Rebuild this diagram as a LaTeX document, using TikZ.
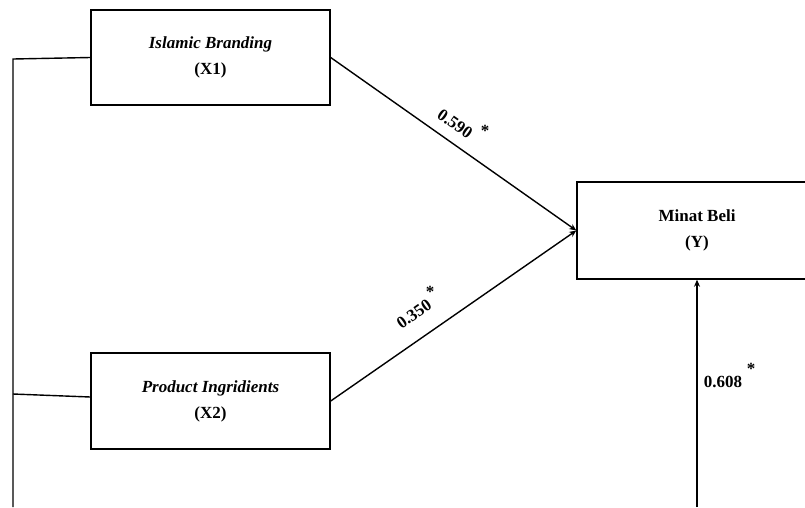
\documentclass[tikz,border=0pt]{standalone}
\usepackage{fontspec}
\setmainfont{Liberation Serif}
\usetikzlibrary{arrows.meta}
\begin{document}
\begin{tikzpicture}[x=1pt,y=-1pt,
  box/.style={draw,line width=1.4pt,minimum width=239pt,inner sep=0pt,align=center,
    font=\fontsize{17}{26}\selectfont\bfseries},
  conn/.style={line width=1.4pt},
  arr/.style={line width=1.4pt,-{Stealth[length=7pt,width=6pt]}},
  lbl/.style={font=\fontsize{17}{20}\selectfont\bfseries,inner sep=0pt},
  star/.style={font=\fontsize{17}{20}\selectfont\bfseries,inner sep=0pt}]
\clip (0,0) rectangle (805,507);
\useasboundingbox (0,0) rectangle (805,507);
\node[box,minimum height=95pt] (X1) at (210.5,57.5) {\itshape Islamic Branding\\(X1)};
\node[box,minimum height=96pt] (X2) at (210.5,401) {\itshape Product Ingridients\\(X2)};
\node[box,minimum height=97pt,minimum width=240pt] (Y) at (697,230.5) {Minat Beli\\(Y)};
\coordinate (t1) at (13,59);
\coordinate (t2) at (13,394);
\coordinate (bl) at (13,507);
\coordinate (br) at (697,507);
\draw[conn] (bl) -- (t1) -- (X1.west);
\draw[conn] (t2) -- ([yshift=4pt]X2.west);
\draw[arr] (X1.east) -- (Y.west);
\draw[arr] (X2.east) -- (Y.west);
\draw[arr] (br) -- (Y.south);
\node[lbl,rotate=-35] (l1) at (455,124) {0.590};
\node[star] (s1) at (485,131) {*};
\node[lbl,rotate=35] (l2) at (414,314) {0.350};
\node[star] (s2) at (430,292) {*};
\node[lbl] (l3) at (723,382) {0.608};
\node[star] (s3) at (751,369) {*};
\end{tikzpicture}
\end{document}
